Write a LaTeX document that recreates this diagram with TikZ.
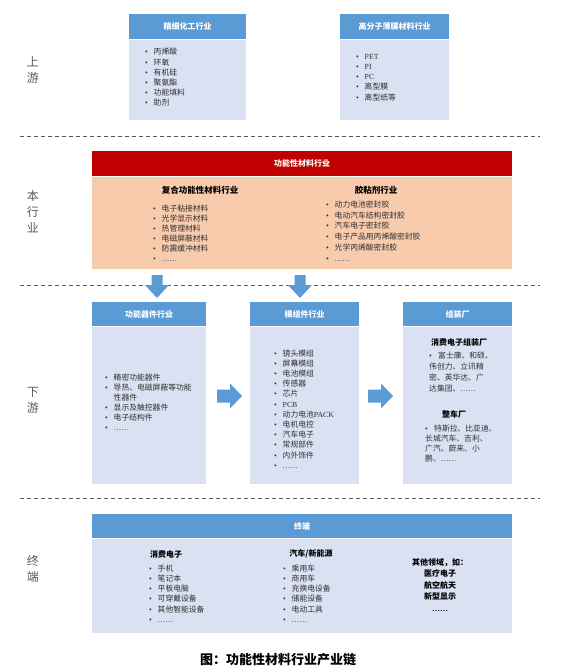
\documentclass[tikz,border=0pt]{standalone}
\usepackage{fontspec}
\setmainfont{Noto Sans CJK SC}
\newfontfamily\latf{Liberation Serif}
\definecolor{hblue}{HTML}{5B9BD5}
\definecolor{bbody}{HTML}{D9E1F2}
\definecolor{hred}{HTML}{C00000}
\definecolor{peach}{HTML}{F8CBAD}
\definecolor{txt}{HTML}{303030}
\definecolor{lbl}{HTML}{595959}
\newcommand\bitem{\makebox[8.5pt][l]{\latf\textbullet}}
\newcommand\elp{{\latf ……}}
\tikzset{
  hdr/.style={fill=hblue, text=white, font=\bfseries\fontsize{8}{9}\selectfont, inner sep=0pt, anchor=north west},
  hdrred/.style={hdr, fill=hred},
  bodyb/.style={fill=bbody, inner sep=0pt, anchor=north west},
  bodyr/.style={fill=peach, inner sep=0pt, anchor=north west},
  lst/.style={anchor=west, align=left, inner sep=0pt, text=txt, font=\fontsize{7.8}{10.2}\selectfont},
  subt/.style={inner sep=0pt, text=black, font=\bfseries\fontsize{8.5}{10}\selectfont},
  side/.style={inner sep=0pt, align=center, text=lbl, font=\fontsize{12}{16}\selectfont},
  dashline/.style={draw=lbl, line width=0.8pt, dash pattern=on 4pt off 3pt},
  downarr/.pic={\fill[hblue] (-5.5,0) -- (5.5,0) -- (5.5,10) -- (12,10) -- (0,23) -- (-12,10) -- (-5.5,10) -- cycle;},
  rightarr/.pic={\fill[hblue] (0,-6.5) -- (13,-6.5) -- (13,-12.5) -- (25,0) -- (13,12.5) -- (13,6.5) -- (0,6.5) -- cycle;}
}
\begin{document}
\begin{tikzpicture}[x=1pt,y=-1pt]
\useasboundingbox (0,0) rectangle (563,672);
\fill[white] (0,0) rectangle (563,672);

% side labels
\node[side] (lup) at (33,70) {上\\游};
\node[side] (lmid) at (33,212) {本\\行\\业};
\node[side] (ldown) at (33,400) {下\\游};
\node[side] (lend) at (33,569) {终\\端};

% dashed separators
\draw[dashline] (20,136) -- (540,136);
\draw[dashline] (20,285) -- (540,285);
\draw[dashline] (20,498) -- (540,498);

% upstream box 1
\node[hdr, minimum width=117pt, minimum height=25pt] (h1) at (129,14) {精细化工行业};
\node[bodyb, minimum width=117pt, minimum height=80pt] (b1) at (h1.south west) {};
\node[lst] (l1) at (145,77.5) {\bitem 丙烯酸\\ \bitem 环氧\\ \bitem 有机硅\\ \bitem 聚氨酯\\ \bitem 功能填料\\ \bitem 助剂};

% upstream box 2
\node[hdr, minimum width=109pt, minimum height=25pt] (h2) at (340,14) {高分子薄膜材料行业};
\node[bodyb, minimum width=109pt, minimum height=80pt] (b2) at (h2.south west) {};
\node[lst] (l2) at (356,77.5) {\bitem {\latf PET}\\ \bitem {\latf PI}\\ \bitem {\latf PC}\\ \bitem 离型膜\\ \bitem 离型纸等};

% industry box
\node[hdrred, minimum width=420pt, minimum height=25pt] (hr) at (92,151) {功能性材料行业};
\node[bodyr, minimum width=420pt, minimum height=92pt] (br) at (hr.south west) {};
\node[subt] (sr1) at (200,190) {复合功能性材料行业};
\node[subt] (sr2) at (376,190) {胶粘剂行业};
\node[lst, font=\fontsize{7.8}{10}\selectfont] (lr1) at (153,233) {\bitem 电子粘接材料\\ \bitem 光学显示材料\\ \bitem 热管理材料\\ \bitem 电磁屏蔽材料\\ \bitem 防震缓冲材料\\ \bitem \elp};
\node[lst, font=\fontsize{7.8}{10.7}\selectfont] (lr2) at (326,231) {\bitem 动力电池密封胶\\ \bitem 电动汽车结构密封胶\\ \bitem 汽车电子密封胶\\ \bitem 电子产品用丙烯酸密封胶\\ \bitem 光学丙烯酸密封胶\\ \bitem \elp};

% down arrows
\path (157,275) coordinate (da1) (300,275) coordinate (da2);
\pic at (da1) {downarr};
\pic at (da2) {downarr};

% downstream box A
\node[hdr, minimum width=114pt, minimum height=24pt] (ha) at (92,302) {功能器件行业};
\node[bodyb, minimum width=114pt, minimum height=157pt] (ba) at (ha.south west) {};
\node[lst, font=\fontsize{7.8}{10}\selectfont] (la) at (105,402) {\bitem 精密功能器件\\ \bitem 导热、电磁屏蔽等功能\\ \hspace*{8.5pt}性器件\\ \bitem 显示及触控器件\\ \bitem 电子结构件\\ \bitem \elp};

% downstream box B
\node[hdr, minimum width=109pt, minimum height=24pt] (hb) at (250,302) {模组件行业};
\node[bodyb, minimum width=109pt, minimum height=157pt] (bb) at (hb.south west) {};
\node[lst] (lb) at (274,409) {\bitem 镜头模组\\ \bitem 屏幕模组\\ \bitem 电池模组\\ \bitem 传感器\\ \bitem 芯片\\ \bitem {\latf PCB}\\ \bitem 动力电池{\latf PACK}\\ \bitem 电机电控\\ \bitem 汽车电子\\ \bitem 常规部件\\ \bitem 内外饰件\\ \bitem \elp};

% downstream box C
\node[hdr, minimum width=109pt, minimum height=24pt] (hc) at (403,302) {组装厂};
\node[bodyb, minimum width=109pt, minimum height=157pt] (bc) at (hc.south west) {};
\node[subt, font=\bfseries\fontsize{8}{10}\selectfont] (sc1) at (459,342) {消费电子组装厂};
\node[lst, font=\fontsize{7.8}{10.8}\selectfont] (lc1) at (429,372) {\makebox[9pt][l]{\latf\textbullet}富士康、和硕、\\伟创力、立讯精\\密、英华达、广\\达集团、\elp};
\node[subt, font=\bfseries\fontsize{8}{10}\selectfont] (sc2) at (454,414) {整车厂};
\node[lst, font=\fontsize{7.8}{10.3}\selectfont] (lc2) at (425,443.5) {\makebox[9pt][l]{\latf\textbullet}特斯拉、比亚迪、\\长城汽车、吉利、\\广汽、蔚来、小\\鹏、\elp};

% right arrows
\path (217,396) coordinate (ra1) (368,396) coordinate (ra2);
\pic at (ra1) {rightarr};
\pic at (ra2) {rightarr};

% terminal box
\node[hdr, minimum width=420pt, minimum height=24pt] (ht) at (92,514) {终端};
\node[bodyb, minimum width=420pt, minimum height=94pt] (bt) at (ht.south west) {};
\node[subt, font=\bfseries\fontsize{8}{10}\selectfont] (st1) at (166,554) {消费电子};
\node[subt, font=\bfseries\fontsize{8}{10}\selectfont] (st2) at (311,554) {汽车/新能源};
\node[lst, font=\fontsize{7.8}{10.25}\selectfont] (lt1) at (149,593.6) {\bitem 手机\\ \bitem 笔记本\\ \bitem 平板电脑\\ \bitem 可穿戴设备\\ \bitem 其他智能设备\\ \bitem \elp};
\node[lst, font=\fontsize{7.8}{10.25}\selectfont] (lt2) at (283,593.6) {\bitem 乘用车\\ \bitem 商用车\\ \bitem 充换电设备\\ \bitem 储能设备\\ \bitem 电动工具\\ \bitem \elp};
\node[subt, align=center, font=\bfseries\fontsize{8}{11.5}\selectfont] (lt3) at (440,585) {其他领域，如：\\医疗电子\\航空航天\\新型显示\\\elp};

% caption
\node[inner sep=0pt, font=\bfseries\fontsize{13}{15}\selectfont] (cap) at (278,660) {图：功能性材料行业产业链};
\end{tikzpicture}
\end{document}
